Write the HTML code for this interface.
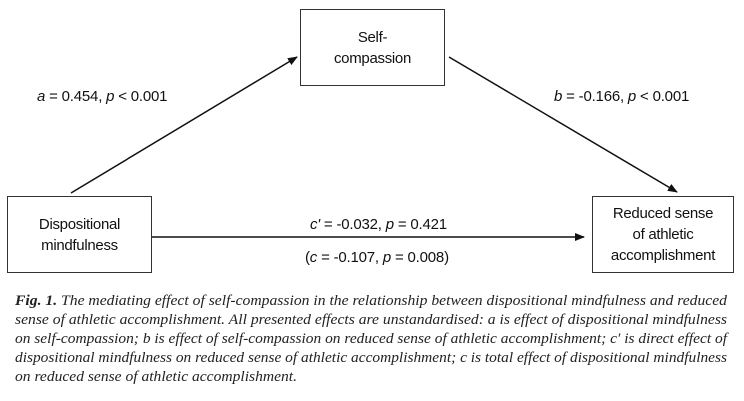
<!DOCTYPE html>
<html><head><style>
body{margin:0;width:744px;height:401px;background:#fff;position:relative;overflow:hidden;font-family:"Liberation Sans",Arial,sans-serif;color:#111}
.box{position:absolute;border:1.5px solid #333;box-sizing:border-box;display:flex;align-items:center;justify-content:center;text-align:center;font-size:15px;line-height:21px;letter-spacing:-0.3px}
.t{position:absolute;font-size:15px;white-space:nowrap;letter-spacing:-0.2px}
</style></head><body>
<svg width="744" height="280" style="position:absolute;left:0;top:0">
<defs><marker id="ar" markerWidth="10" markerHeight="8" refX="9" refY="4" orient="auto" markerUnits="userSpaceOnUse"><path d="M0,0 L10,4 L0,8z" fill="#111"/></marker></defs>
<line x1="71" y1="193" x2="297" y2="57" stroke="#111" stroke-width="1.5" marker-end="url(#ar)"/>
<line x1="449" y1="57" x2="677" y2="192" stroke="#111" stroke-width="1.5" marker-end="url(#ar)"/>
<line x1="151" y1="237" x2="584" y2="237" stroke="#111" stroke-width="1.5" marker-end="url(#ar)"/>
</svg>
<div class="box" style="left:300px;top:9px;width:145px;height:77px">Self-<br>compassion</div>
<div class="box" style="left:7px;top:196px;width:145px;height:77px">Dispositional<br>mindfulness</div>
<div class="box" style="left:592px;top:196px;width:142px;height:77px">Reduced sense<br>of athletic<br>accomplishment</div>
<div class="t" style="left:37px;top:88px"><i>a</i> = 0.454, <i>p</i> &lt; 0.001</div>
<div class="t" style="left:554px;top:88px"><i>b</i> = -0.166, <i>p</i> &lt; 0.001</div>
<div class="t" style="left:310px;top:216px"><i>c'</i> = -0.032, <i>p</i> = 0.421</div>
<div class="t" style="left:305px;top:249px">(<i>c</i> = -0.107, <i>p</i> = 0.008)</div>
<svg width="744" height="121" style="position:absolute;left:0;top:280px" font-family="Liberation Serif, serif" font-style="italic" font-size="15" fill="#222">
<text x="15" y="25" textLength="712" lengthAdjust="spacingAndGlyphs"><tspan font-weight="bold">Fig. 1.</tspan> The mediating effect of self-compassion in the relationship between dispositional mindfulness and reduced</text>
<text x="15" y="44" textLength="712" lengthAdjust="spacingAndGlyphs">sense of athletic accomplishment. All presented effects are unstandardised: a is effect of dispositional mindfulness</text>
<text x="15" y="63" textLength="712" lengthAdjust="spacingAndGlyphs">on self-compassion; b is effect of self-compassion on reduced sense of athletic accomplishment; c′ is direct effect of</text>
<text x="15" y="82" textLength="712" lengthAdjust="spacingAndGlyphs">dispositional mindfulness on reduced sense of athletic accomplishment; c is total effect of dispositional mindfulness</text>
<text x="15" y="101" textLength="282" lengthAdjust="spacingAndGlyphs">on reduced sense of athletic accomplishment.</text>
</svg>
</body></html>
